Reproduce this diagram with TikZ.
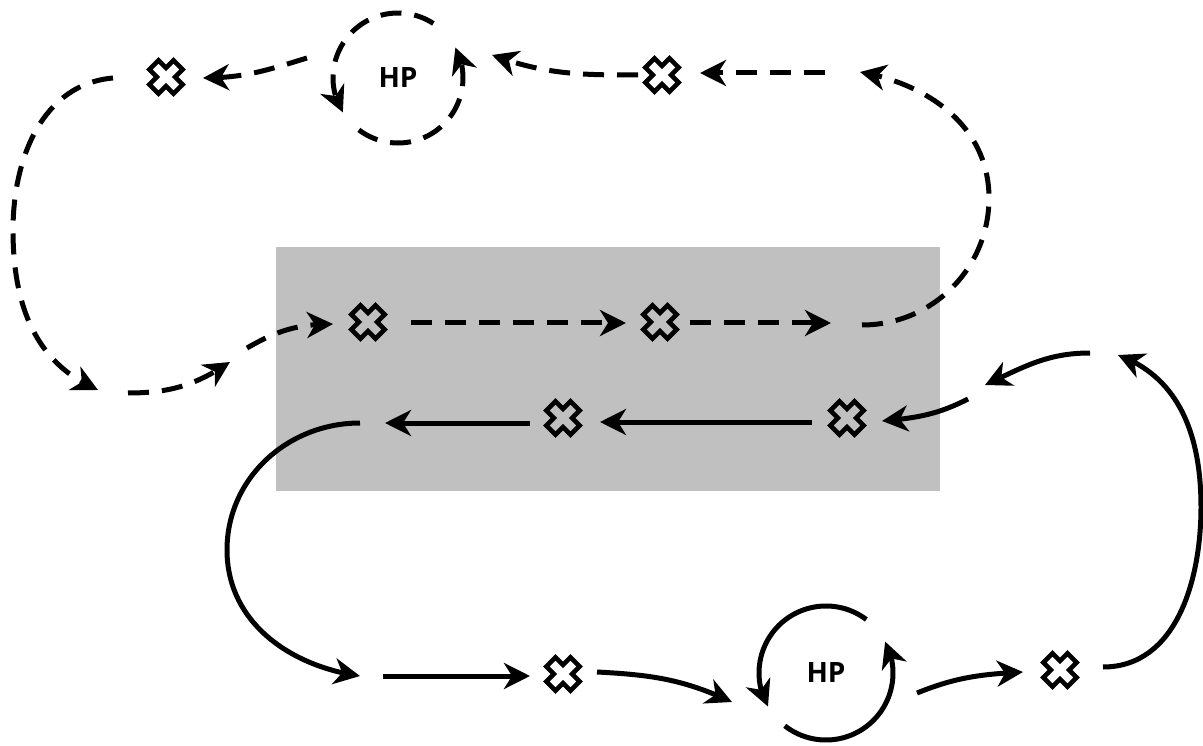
\documentclass[tikz,border=0pt]{standalone}
\usepackage{fontspec}
\newfontfamily\hpfont{Open Sans}
\usetikzlibrary{arrows.meta,bending}
\definecolor{boxgray}{RGB}{192,192,192}
\begin{document}
\begin{tikzpicture}[x=1pt,y=1pt,
  conn/.style={line width=5pt, line cap=butt, -{Stealth[length=26pt,width=26pt,inset=8pt]}},
  dconn/.style={conn, dash pattern=on 21pt off 13pt},
  xmark/.style={rectangle, minimum size=48pt, inner sep=0pt,
    path picture={\draw[line width=4.6pt, line join=miter, shift={(path picture bounding box.center)}]
      (7.42,-16.62) -- (16.62,-7.42) -- (9.19,0) -- (16.62,7.42) -- (7.42,16.62) -- (0,9.19)
      -- (-7.42,16.62) -- (-16.62,7.42) -- (-9.19,0) -- (-16.62,-7.42) -- (-7.42,-16.62) -- (0,-9.19) -- cycle;}},
  hp/.style={circle, minimum size=130pt, inner sep=0pt, font=\hpfont\bfseries\fontsize{28pt}{28pt}\selectfont}
]
\useasboundingbox (0,0) rectangle (1203,-746);
\fill[boxgray] (276,-247) rectangle (940,-491);

% nodes
\node[xmark] (x1) at (166,-77) {};
\node[xmark] (x2) at (662,-75) {};
\node[xmark] (x3) at (368,-322) {};
\node[xmark] (x4) at (660,-322) {};
\node[xmark] (x5) at (563,-418) {};
\node[xmark] (x6) at (847,-418) {};
\node[xmark] (x7) at (563,-674) {};
\node[xmark] (x8) at (1060,-670) {};
\node[hp] (hp1) at (398,-78) {HP};
\node[hp] (hp2) at (826,-673) {HP};

% HP cycle arcs
\draw[dconn] ([shift={(57:65)}]hp1.center) arc[start angle=57, end angle=212, radius=65];
\draw[dconn] ([shift={(233:65)}]hp1.center) arc[start angle=233, end angle=388, radius=65];
\draw[conn] ([shift={(53:67)}]hp2.center) arc[start angle=53, end angle=210, radius=67];
\draw[conn] ([shift={(232:67)}]hp2.center) arc[start angle=232, end angle=388, radius=67];

% free connector ends
\coordinate (a1) at (825,-73);  \coordinate (a2) at (700,-73);
\coordinate (b1) at (638,-75);  \coordinate (b2) at (492,-55);
\coordinate (c1) at (307,-58);  \coordinate (c2) at (203,-78);
\coordinate (d1) at (113,-78);  \coordinate (d2) at (13,-230);  \coordinate (d3) at (98,-390);
\coordinate (e1) at (128,-393); \coordinate (e2) at (230,-362);
\coordinate (f1) at (247,-348); \coordinate (f2) at (333,-324);
\coordinate (g1) at (411,-323); \coordinate (g2) at (626,-323);
\coordinate (h1) at (690,-323); \coordinate (h2) at (831,-323);
\coordinate (i1) at (862,-325); \coordinate (i2) at (989,-198); \coordinate (i3) at (860,-72);

\coordinate (j1) at (1103,-667); \coordinate (j2) at (1201,-507); \coordinate (j3) at (1118,-355);
\coordinate (k1) at (1090,-353); \coordinate (k2) at (985,-385);
\coordinate (l1) at (968,-399);  \coordinate (l2) at (882,-421);
\coordinate (m1) at (812,-422);  \coordinate (m2) at (600,-422);
\coordinate (n1) at (530,-423);  \coordinate (n2) at (385,-423);
\coordinate (o1) at (360,-423);  \coordinate (o2) at (227,-550); \coordinate (o3) at (360,-676);
\coordinate (p1) at (383,-676);  \coordinate (p2) at (530,-676);
\coordinate (q1) at (597,-672);  \coordinate (q2) at (732,-702);
\coordinate (r1) at (917,-693);  \coordinate (r2) at (1023,-672);

% dashed connectors
\draw[dconn] (a1) -- (a2);
\draw[dconn] (b1) to[out=180,in=-20] (b2);
\draw[dconn] (c1) to[out=197,in=0] (c2);
\draw[dconn] (d1) to[out=185,in=90] (d2) to[out=-90,in=157] (d3);
\draw[dconn] (e1) to[out=0,in=-146] (e2);
\draw[dconn] (f1) to[out=30,in=180] (f2);
\draw[dconn] (g1) -- (g2);
\draw[dconn] (h1) -- (h2);
\draw[dconn] (i1) to[out=0,in=-90] (i2) to[out=90,in=-10] (i3);

% solid connectors
\draw[conn] (j1) to[out=0,in=-90] (j2) to[out=90,in=-20] (j3);
\draw[conn] (k1) to[out=180,in=25] (k2);
\draw[conn] (l1) to[out=207,in=5] (l2);
\draw[conn] (m1) -- (m2);
\draw[conn] (n1) -- (n2);
\draw[conn] (o1) to[out=180,in=90] (o2) to[out=-90,in=172] (o3);
\draw[conn] (p1) -- (p2);
\draw[conn] (q1) to[out=-3,in=155] (q2);
\draw[conn] (r1) to[out=22,in=183] (r2);
\end{tikzpicture}
\end{document}
